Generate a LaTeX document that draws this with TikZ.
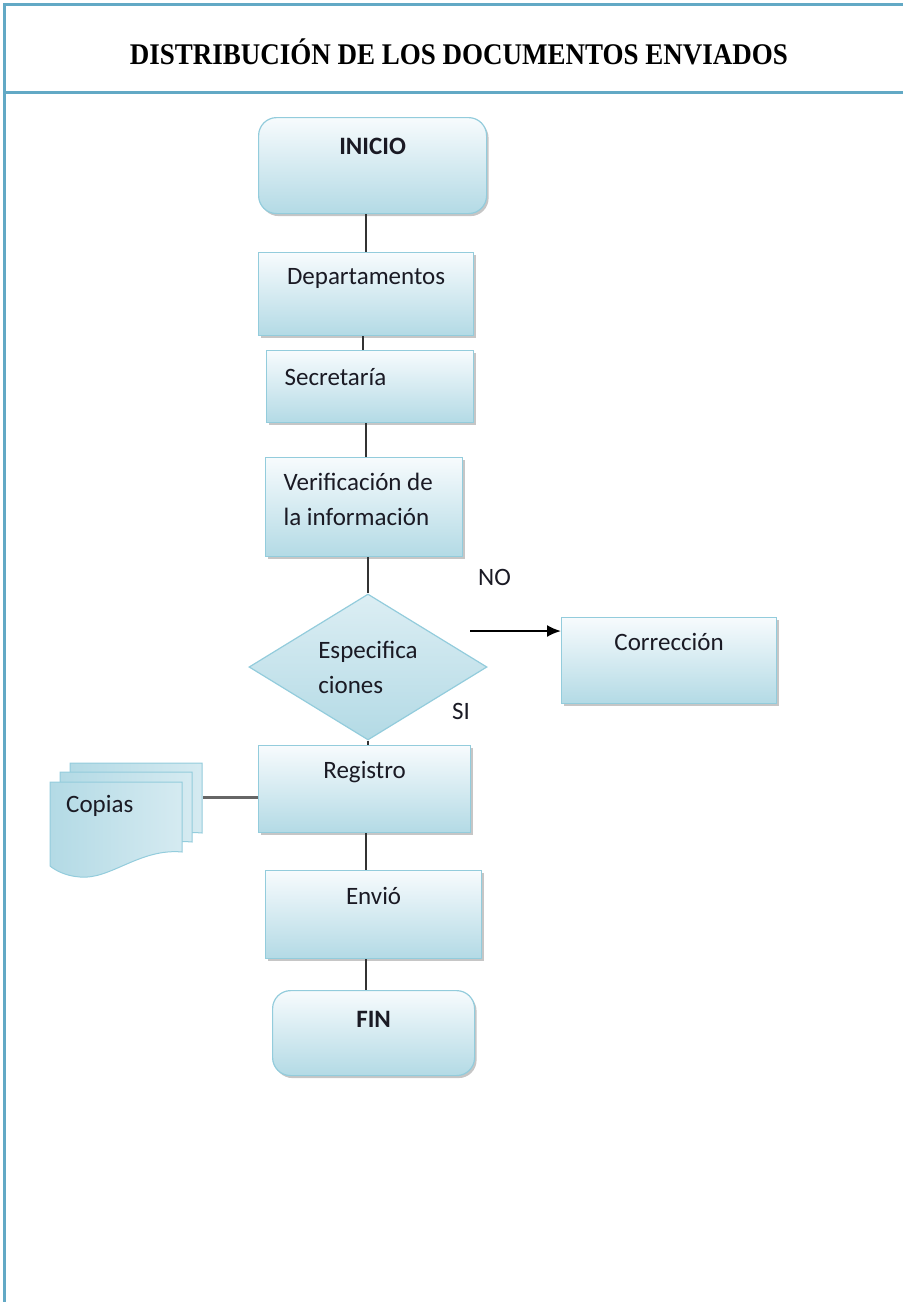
\documentclass[tikz,border=0pt]{standalone}
\usepackage{fontspec}
\setmainfont{Liberation Serif}
\newfontfamily\calibri{Carlito}
\usetikzlibrary{shapes.geometric,shadows,arrows.meta}

\definecolor{framecol}{HTML}{62A9C5}
\definecolor{edgecol}{HTML}{93CCDC}
\definecolor{boxtop}{HTML}{F7FBFD}
\definecolor{boxbot}{HTML}{B3DAE5}
\definecolor{ink}{HTML}{1A1A24}
\definecolor{wirecol}{HTML}{333333}

\tikzset{
  boxshadow/.style={drop shadow={shadow xshift=2pt, shadow yshift=-2.5pt, fill=black!50, opacity=0.45}},
  box/.style={boxshadow, draw=edgecol, line width=1.2pt, top color=boxtop, bottom color=boxbot,
    inner sep=0pt, anchor=north west, text=ink, font=\calibri\fontsize{25}{35}\selectfont},
  term/.style={box, rounded corners=18pt, font=\calibri\bfseries\fontsize{25}{35}\selectfont},
  leftbox/.style={box, inner xsep=18pt, align=flush left},
  decision/.style={diamond, aspect=1.63, draw=edgecol, line width=1.2pt,
    top color=boxtop!60!boxbot, bottom color=boxbot, inner sep=0pt,
    minimum width=238pt, minimum height=146pt, align=flush left, text=ink,
    font=\calibri\fontsize{25}{35}\selectfont},
  lbl/.style={text=ink, inner sep=0pt, font=\calibri\fontsize{25}{35}\selectfont},
  wire/.style={draw=wirecol, line width=2.5pt},
  docshape/.style={draw=edgecol, line width=1pt, left color=boxbot, right color=boxtop!50!boxbot},
  framerule/.style={draw=framecol, line width=3pt}
}

\begin{document}
\begin{tikzpicture}[x=1pt, y=-1pt]
  \useasboundingbox (0,0) rectangle (903,1302);

  % page frame and title bar
  \draw[framerule] (4,1302) -- (4,4) -- (903,4);
  \draw[framerule] (4,92) -- (903,92);
  \node[anchor=base, inner sep=0pt, font=\bfseries\fontsize{30}{36}\selectfont] (title) at (459,64)
    {\scalebox{0.9}[1]{DISTRIBUCIÓN DE LOS DOCUMENTOS ENVIADOS}};

  % vertical axis of the main flow
  \coordinate (axis) at (366,0);

  % process steps
  \node[term, minimum width=228pt, text height=37pt, text depth=59pt] (ini) at (258,117) {INICIO};
  \node[box, minimum width=215pt, text height=32pt, text depth=51pt] (dep) at (258,252) {Departamentos};
  \node[leftbox, text width=171pt, text height=35pt, text depth=37pt] (sec) at (266,350) {Secretaría};
  \node[leftbox, text width=161pt, text height=33pt, text depth=66pt] (ver) at (265,457) {Verificación de\\la información};
  \node[decision] (dia) at (368,667) {Especifica\\ciones};
  \node[box, minimum width=215pt, text height=33pt, text depth=53pt] (cor) at (561,617) {Corrección};
  \node[box, minimum width=212pt, text height=33pt, text depth=54pt] (reg) at (258,745) {Registro};
  \node[box, minimum width=216pt, text height=34pt, text depth=54pt] (env) at (265,870) {Envió};
  \node[term, minimum width=202pt, text height=37pt, text depth=48pt] (fin) at (272,990) {FIN};

  % stacked documents
  \foreach \dx/\dy in {20/-19, 10/-10, 0/0} {
    \path[docshape, shift={(\dx,\dy)}]
      (50,782) -- (182,782) -- (182,852)
      .. controls (140,848) and (110,880) .. (80,877)
      .. controls (65,876) and (55,870) .. (50,866) -- cycle;
  }
  \node[lbl, anchor=base west] (cop) at (66,812) {Copias};
  \coordinate (copR) at (203,797);

  % decision labels
  \node[lbl, anchor=base west] (no) at (478,585) {NO};
  \node[lbl, anchor=base west] (si) at (452,719) {SI};

  % connectors
  \draw[wire] (ini.south -| axis) -- (dep.north -| axis);
  \draw[wire] ([xshift=-3pt]dep.south -| axis) -- ([xshift=-3pt]sec.north -| axis);
  \draw[wire] (sec.south -| axis) -- (ver.north -| axis);
  \draw[wire] (ver.south -| dia.north) -- (dia.north);
  \draw[wire] (dia.south) -- (reg.north -| dia.south);
  \draw[wire] (reg.south -| axis) -- (env.north -| axis);
  \draw[wire] (env.south -| axis) -- (fin.north -| axis);
  \coordinate (noA) at (470,631);
  \draw[draw=black, line width=2pt, -{Latex[length=14pt,width=12pt]}] (noA) -- (cor.west |- noA);
  \draw[draw=black!60, line width=3pt] (copR) -- (reg.west |- copR);
\end{tikzpicture}
\end{document}
